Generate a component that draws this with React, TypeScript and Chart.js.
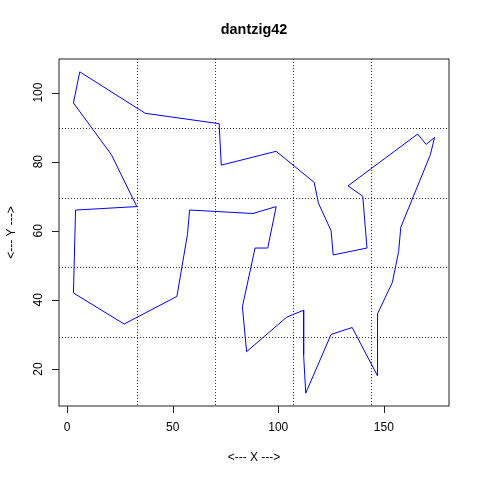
import React, { useEffect, useRef } from "react";
import { Chart, registerables } from "chart.js";

Chart.register(...registerables);

const chartTitle = "dantzig42";
const xAxisTitle = "<--- X --->";
const yAxisTitle = "<--- Y --->";

// city coordinates in tour order
const cityX = [170, 166, 133, 140, 142, 126, 125, 119, 117, 99, 73, 72, 37, 6, 3, 21, 33, 4, 3, 27, 52, 57, 58, 88, 99, 95, 89, 83, 85, 104, 112, 112, 113, 125, 135, 147, 147, 154, 157, 158, 172, 174];
const cityY = [85, 88, 73, 70, 55, 53, 60, 68, 74, 83, 79, 91, 94, 106, 97, 82, 67, 66, 42, 33, 41, 59, 66, 65, 67, 55, 55, 38, 25, 35, 37, 24, 13, 30, 32, 18, 36, 45, 54, 61, 82, 87];

const xTicks = [0, 50, 100, 150];
const yTicks = [20, 40, 60, 80, 100];

const FONT = '"Liberation Sans", Arial, Helvetica, sans-serif';

function rangeOf(vals: number[]) {
  const mn = Math.min(...vals);
  const mx = Math.max(...vals);
  const pad = (mx - mn) * 0.04;
  return [mn - pad, mx + pad];
}

const rPlotPlugin = {
  id: "rPlot",
  beforeDatasetsDraw(chart: any) {
    const { ctx, chartArea: a, scales } = chart;
    const xs = scales.x;
    const ys = scales.y;
    ctx.save();
    ctx.strokeStyle = "#333";
    ctx.lineWidth = 1;
    ctx.setLineDash([1, 2]);
    for (let i = 1; i < 5; i++) {
      const vx = xs.min + (i * (xs.max - xs.min)) / 5;
      const px = Math.round(xs.getPixelForValue(vx)) + 0.5;
      ctx.beginPath();
      ctx.moveTo(px, a.top);
      ctx.lineTo(px, a.bottom);
      ctx.stroke();
      const vy = ys.min + (i * (ys.max - ys.min)) / 5;
      const py = Math.round(ys.getPixelForValue(vy)) + 0.5;
      ctx.beginPath();
      ctx.moveTo(a.left, py);
      ctx.lineTo(a.right, py);
      ctx.stroke();
    }
    ctx.restore();
  },
  afterDraw(chart: any) {
    const { ctx, chartArea: a, scales } = chart;
    const xs = scales.x;
    const ys = scales.y;
    ctx.save();
    ctx.setLineDash([]);
    ctx.strokeStyle = "#222";
    ctx.lineWidth = 1;
    // box
    ctx.strokeRect(a.left, a.top, a.right - a.left, a.bottom - a.top);
    // ticks
    ctx.beginPath();
    xTicks.forEach((t) => {
      const px = Math.round(xs.getPixelForValue(t)) + 0.5;
      ctx.moveTo(px, a.bottom);
      ctx.lineTo(px, a.bottom + 7);
    });
    yTicks.forEach((t) => {
      const py = Math.round(ys.getPixelForValue(t)) + 0.5;
      ctx.moveTo(a.left, py);
      ctx.lineTo(a.left - 7, py);
    });
    ctx.stroke();
    // tick labels
    ctx.fillStyle = "#000";
    ctx.font = `12px ${FONT}`;
    ctx.textAlign = "center";
    ctx.textBaseline = "middle";
    xTicks.forEach((t) => {
      ctx.fillText(String(t), xs.getPixelForValue(t), a.bottom + 21.5);
    });
    yTicks.forEach((t) => {
      ctx.save();
      ctx.translate(a.left - 20.5, ys.getPixelForValue(t));
      ctx.rotate(-Math.PI / 2);
      ctx.fillText(String(t), 0, 0);
      ctx.restore();
    });
    // axis titles
    const cx = (a.left + a.right) / 2;
    const cy = (a.top + a.bottom) / 2;
    ctx.fillText(xAxisTitle, cx, a.bottom + 51.5);
    ctx.save();
    ctx.translate(11.5, cy);
    ctx.rotate(-Math.PI / 2);
    ctx.fillText(yAxisTitle, 0, 0);
    ctx.restore();
    // main title
    ctx.font = `bold 14.4px ${FONT}`;
    ctx.fillText(chartTitle, cx, 30.5);
    ctx.restore();
  },
};

export default function App() {
  const ref = useRef<HTMLCanvasElement | null>(null);
  useEffect(() => {
    if (!ref.current) return;
    const pts = cityX.map((x, i) => ({ x, y: cityY[i] }));
    pts.push({ x: cityX[0], y: cityY[0] });
    const [xmin, xmax] = rangeOf(cityX);
    const [ymin, ymax] = rangeOf(cityY);
    const chart = new Chart(ref.current, {
      type: "scatter",
      data: {
        datasets: [
          {
            data: pts,
            showLine: true,
            borderColor: "#0000ff",
            backgroundColor: "#0000ff",
            borderWidth: 1,
            pointRadius: 0,
            tension: 0,
          },
        ],
      },
      options: {
        animation: false,
        responsive: false,
        devicePixelRatio: 1,
        layout: { padding: { left: 59, top: 59, right: 31, bottom: 74 } },
        plugins: { legend: { display: false }, tooltip: { enabled: false }, title: { display: false } },
        scales: {
          x: { type: "linear", min: xmin, max: xmax, display: false },
          y: { type: "linear", min: ymin, max: ymax, display: false },
        },
      },
      plugins: [rPlotPlugin],
    });
    return () => chart.destroy();
  }, []);
  return (
    <div style={{ position: "absolute", left: 0, top: 0, width: 480, height: 480, background: "#fff" }}>
      <canvas ref={ref} width={480} height={480} style={{ width: 480, height: 480 }} />
    </div>
  );
}
